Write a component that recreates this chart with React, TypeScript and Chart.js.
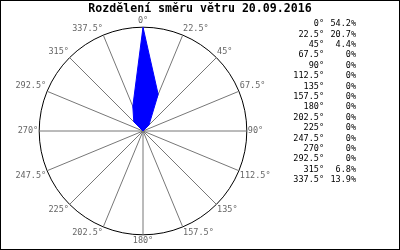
import React, { useEffect, useRef } from "react";
import { Chart, registerables } from "chart.js";

Chart.register(...registerables);

const directions = ["0°", "22.5°", "45°", "67.5°", "90°", "112.5°", "135°", "157.5°", "180°", "202.5°", "225°", "247.5°", "270°", "292.5°", "315°", "337.5°"];
const shares = [54.2, 20.7, 4.4, 0, 0, 0, 0, 0, 0, 0, 0, 0, 0, 0, 6.8, 13.9];
const titleText = "Rozdělení směru větru 20.09.2016";

const FONT = "'DejaVu Sans Mono', 'Liberation Mono', monospace";

const overlay = {
  id: "overlay",
  afterDraw(chart: any) {
    const ctx = chart.ctx;
    ctx.save();
    // title
    ctx.fillStyle = "#000";
    ctx.font = `bold 11.6px ${FONT}`;
    ctx.textAlign = "center";
    ctx.textBaseline = "middle";
    ctx.fillText(titleText, 200, 9);
    // legend table
    ctx.font = `8.5px ${FONT}`;
    ctx.textAlign = "right";
    directions.forEach((d, i) => {
      const y = 24 + i * 10.4;
      ctx.fillText(d, 324, y);
      ctx.fillText(`${shares[i]}%`, 356, y);
    });
    // frame
    ctx.strokeStyle = "#000";
    ctx.lineWidth = 1;
    ctx.strokeRect(0.5, 0.5, 399, 249);
    ctx.restore();
  },
};

export default function App() {
  const ref = useRef<HTMLCanvasElement>(null);
  useEffect(() => {
    const maxVal = Math.max(...shares);
    const chart = new Chart(ref.current!, {
      type: "radar",
      data: {
        labels: directions,
        datasets: [
          {
            data: shares,
            backgroundColor: "#0000ff",
            borderColor: "#0000ff",
            borderWidth: 1,
            pointRadius: 0,
            fill: true,
          },
        ],
      },
      options: {
        animation: false,
        responsive: false,
        layout: { padding: { left: 12, top: 16, right: 124, bottom: 3 } },
        plugins: { legend: { display: false }, tooltip: { enabled: false }, title: { display: false } },
        scales: {
          r: {
            min: 0,
            max: maxVal,
            ticks: { display: false, count: 2 },
            grid: {
              circular: true,
              color: (c: any) => (c.tick && c.tick.value >= maxVal ? "#000" : "rgba(0,0,0,0)"),
              lineWidth: 1,
            },
            angleLines: { color: "#777", lineWidth: 1 },
            pointLabels: { color: "#666", font: { family: FONT, size: 8.5 }, padding: 1 },
          },
        },
      },
      plugins: [overlay],
    });
    return () => chart.destroy();
  }, []);
  return (
    <div style={{ position: "fixed", left: 0, top: 0, width: 400, height: 250, background: "#fff" }}>
      <canvas ref={ref} width={400} height={250} />
    </div>
  );
}
